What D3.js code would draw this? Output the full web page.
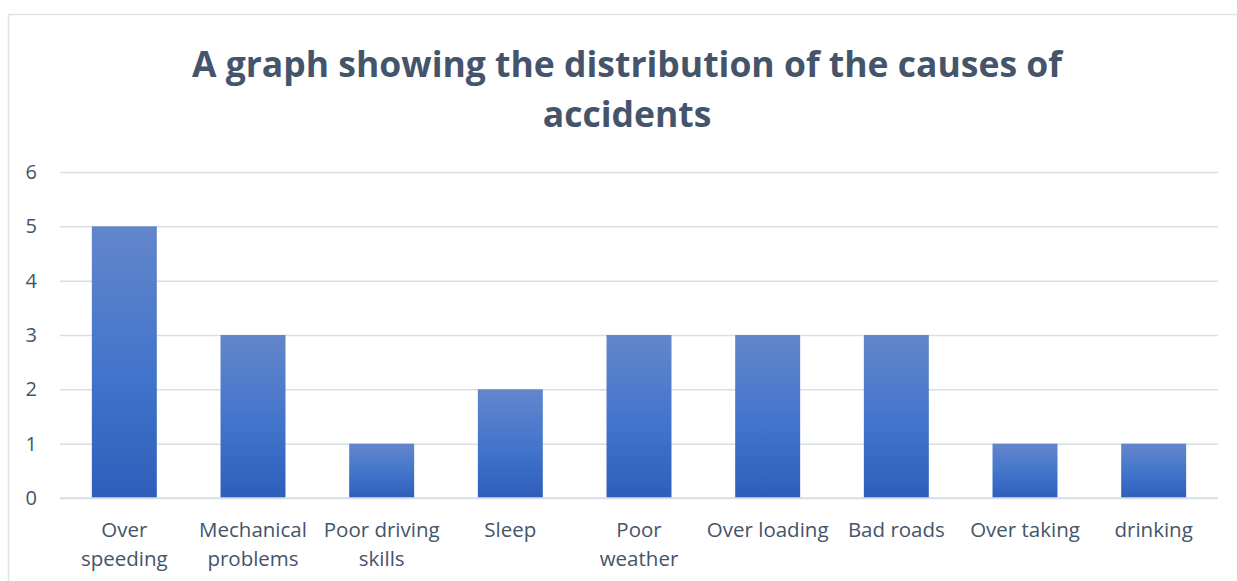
<!DOCTYPE html>
<html>
<head>
<meta charset="utf-8">
<script src="https://cdn.jsdelivr.net/npm/d3@7"></script>
<style>
  body { margin: 0; background: #fff; }
  svg { display: block; }
</style>
</head>
<body>
<div id="chart"></div>
<script>
// data
const causes = ["Over\nspeeding", "Mechanical\nproblems", "Poor driving\nskills", "Sleep",
  "Poor\nweather", "Over loading", "Bad roads", "Over taking", "drinking"];
const counts = [5, 3, 1, 2, 3, 3, 3, 1, 1];
const yTicks = [0, 1, 2, 3, 4, 5, 6];
const titleLines = ["A graph showing the distribution of the causes of", "accidents"];

const W = 1237, H = 581;
const plot = { left: 60, right: 1218, top: 172, bottom: 498 };
const textCol = "#44546A";

const svg = d3.select("#chart").append("svg")
  .attr("width", W).attr("height", H);

// gradient per bar (light top -> darker bottom)
const grad = svg.append("defs").append("linearGradient")
  .attr("id", "barGrad")
  .attr("x1", 0).attr("y1", 0).attr("x2", 0).attr("y2", 1);
grad.append("stop").attr("offset", "0%").attr("stop-color", "#6386CB");
grad.append("stop").attr("offset", "55%").attr("stop-color", "#4274CB");
grad.append("stop").attr("offset", "100%").attr("stop-color", "#2E5EBA");

// chart area border (only top and left visible in the picture)
svg.append("rect")
  .attr("x", 8.5).attr("y", 14.5)
  .attr("width", W + 20).attr("height", H + 20)
  .attr("fill", "none").attr("stroke", "#DDE3EA").attr("stroke-width", 1.5);

// title
svg.append("text")
  .attr("x", 627).attr("y", 77)
  .attr("text-anchor", "middle")
  .attr("font-family", "'Open Sans', sans-serif")
  .attr("font-weight", "bold")
  .attr("font-size", 35.5)
  .attr("fill", textCol)
  .selectAll("tspan")
  .data(titleLines)
  .enter().append("tspan")
  .attr("x", 627)
  .attr("dy", (d, i) => i === 0 ? 0 : 50)
  .text(d => d);

const x = d3.scaleBand()
  .domain(causes)
  .range([plot.left, plot.right])
  .paddingInner(0.495)
  .paddingOuter(0.2475);

const y = d3.scaleLinear()
  .domain([0, 6])
  .range([plot.bottom, plot.top]);

// gridlines + y labels via axis
const yAxis = svg.append("g")
  .attr("transform", "translate(" + plot.left + ",0)")
  .call(d3.axisLeft(y).tickValues(yTicks).tickFormat(d3.format("d"))
    .tickSize(-(plot.right - plot.left)).tickPadding(23));
yAxis.select(".domain").remove();
yAxis.selectAll(".tick line").attr("stroke", "#D9DEE6").attr("stroke-width", 1.5);
yAxis.selectAll(".tick text")
  .attr("fill", textCol)
  .attr("font-family", "'Open Sans', sans-serif")
  .attr("font-size", 20);

// bars
svg.append("g").selectAll("rect")
  .data(counts)
  .enter().append("rect")
  .attr("x", (d, i) => x(causes[i]))
  .attr("y", d => y(d))
  .attr("width", x.bandwidth())
  .attr("height", d => y(0) - y(d))
  .attr("fill", "url(#barGrad)");

// redraw zero line on top of bars
svg.append("line")
  .attr("x1", plot.left).attr("x2", plot.right)
  .attr("y1", y(0)).attr("y2", y(0))
  .attr("stroke", "#D9DEE6").attr("stroke-width", 1.5);

// x labels
const xAxis = svg.append("g")
  .attr("transform", "translate(0," + plot.bottom + ")")
  .call(d3.axisBottom(x).tickSize(0).tickFormat(""));
xAxis.select(".domain").remove();
xAxis.selectAll(".tick").each(function (d) {
  const t = d3.select(this).append("text")
    .attr("text-anchor", "middle")
    .attr("fill", textCol)
    .attr("font-family", "'Open Sans', sans-serif")
    .attr("font-size", 20.5);
  d.split("\n").forEach((line, i) => {
    t.append("tspan").attr("x", 0).attr("y", 39 + i * 29).text(line);
  });
});
</script>
</body>
</html>
